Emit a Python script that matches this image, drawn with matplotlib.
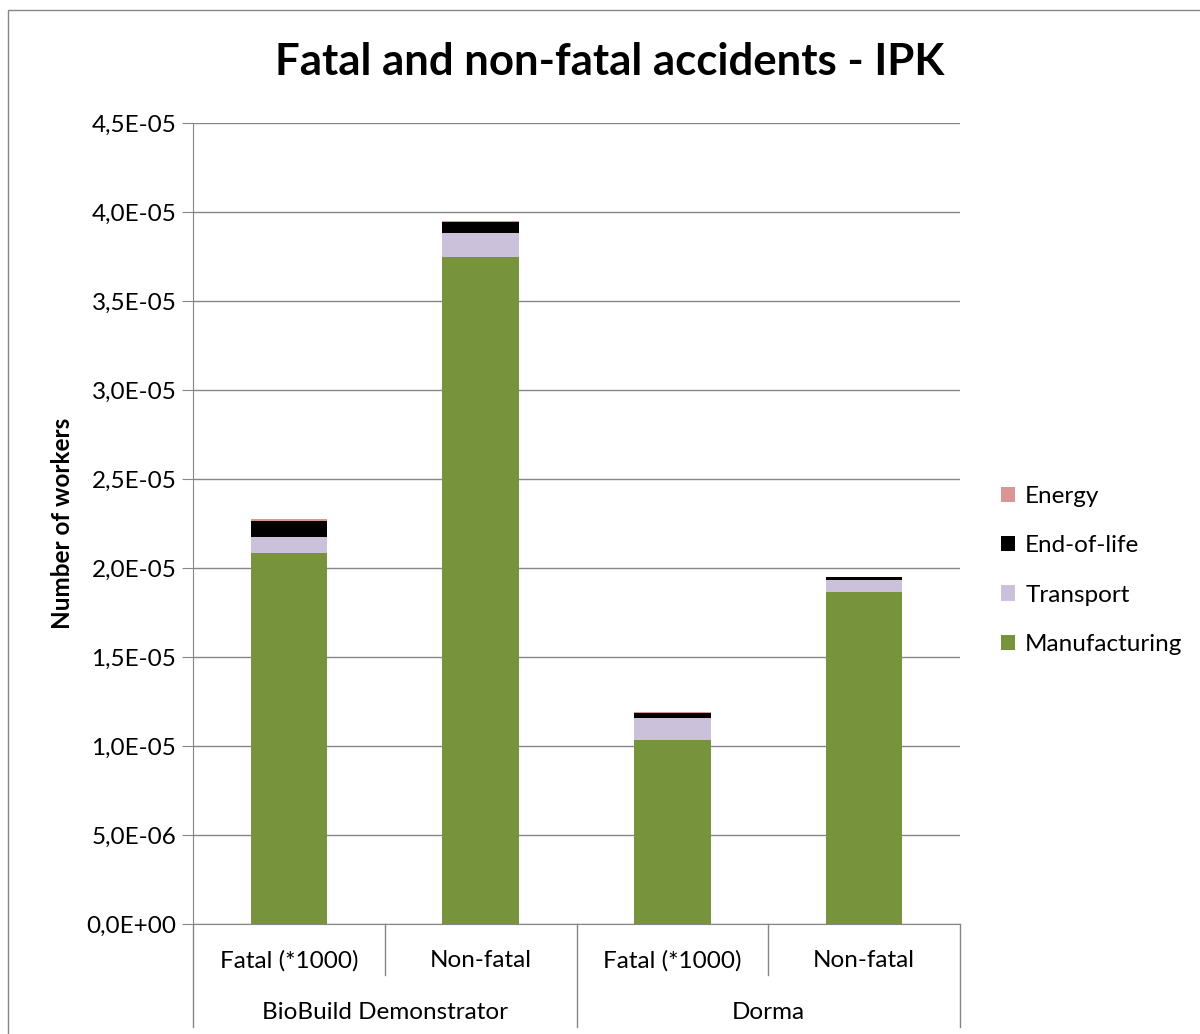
import matplotlib
matplotlib.use('Agg')
import matplotlib.pyplot as plt
from matplotlib.patches import Rectangle
from matplotlib.ticker import FuncFormatter

# Data
groups = ['BioBuild Demonstrator', 'Dorma']
subcats = ['Fatal (*1000)', 'Non-fatal', 'Fatal (*1000)', 'Non-fatal']
manufacturing = [2.086e-5, 3.749e-5, 1.034e-5, 1.866e-5]
transport = [0.090e-5, 0.134e-5, 0.125e-5, 0.067e-5]
end_of_life = [0.088e-5, 0.062e-5, 0.028e-5, 0.018e-5]
energy = [0.011e-5, 0.004e-5, 0.003e-5, 0.001e-5]

series = [('Manufacturing', manufacturing, '#77933C'),
          ('Transport', transport, '#CCC1DA'),
          ('End-of-life', end_of_life, '#000000'),
          ('Energy', energy, '#D99694')]

plt.rcParams['font.family'] = ['Lato', 'DejaVu Sans']
FS = 17.5

fig = plt.figure(figsize=(12, 10.34), dpi=100)
ax = fig.add_axes([193/1200, 1-924/1034, (960-193)/1200, (924-123)/1034])

x = list(range(len(subcats)))
bottom = [0.0]*len(x)
handles = []
for name, vals, col in series:
    b = ax.bar(x, vals, width=0.4, bottom=bottom, color=col, label=name, zorder=3)
    handles.append(b)
    bottom = [bt + v for bt, v in zip(bottom, vals)]

ax.set_xlim(-0.5, len(x) - 0.5)
ax.set_ylim(0, 4.5e-5)
ax.set_yticks([i*0.5e-5 for i in range(10)])
ax.yaxis.set_major_formatter(FuncFormatter(lambda v, p: ('%.1E' % v).replace('.', ',')))
ax.tick_params(axis='y', labelsize=FS, length=8, color='#868686', pad=4)
ax.grid(axis='y', color='#868686', lw=1, zorder=0)
for s in ['top', 'right']:
    ax.spines[s].set_visible(False)
for s in ['left', 'bottom']:
    ax.spines[s].set_color('#868686')

# category axis
ax.set_xticks(x)
ax.set_xticklabels(subcats, fontsize=FS)
ax.tick_params(axis='x', length=0, pad=19)
tr = ax.get_xaxis_transform()
for xb in [-0.5, 0.5, 1.5, 2.5, 3.5]:
    low = -0.1286 if xb in (-0.5, 1.5, 3.5) else -0.0637
    ax.plot([xb, xb], [0, low], color='#868686', lw=1, transform=tr, clip_on=False)
for i, g in enumerate(groups):
    ax.text(2*i + 0.5, -0.111, g, transform=tr, ha='center', va='center', fontsize=FS)

ax.set_ylabel('Number of workers', fontsize=FS, fontweight='bold', labelpad=9)
fig.text(610/1200, 1-62/1034, 'Fatal and non-fatal accidents - IPK', ha='center', va='center',
         fontsize=31.5, fontweight='bold')

fig.legend(handles[::-1], [s[0] for s in series][::-1], loc='upper left',
           bbox_to_anchor=(979/1200, 1-464/1034), frameon=False, fontsize=FS,
           handlelength=0.6, handleheight=0.6, handletextpad=0.4, labelspacing=1.17)

# chart area border
fig.patches.append(Rectangle((8/1200, -0.1), 1.2, 1 - 10/1034 + 0.1, transform=fig.transFigure,
                             fill=False, edgecolor='#868686', lw=1))

fig.savefig('out.png', dpi=100)
